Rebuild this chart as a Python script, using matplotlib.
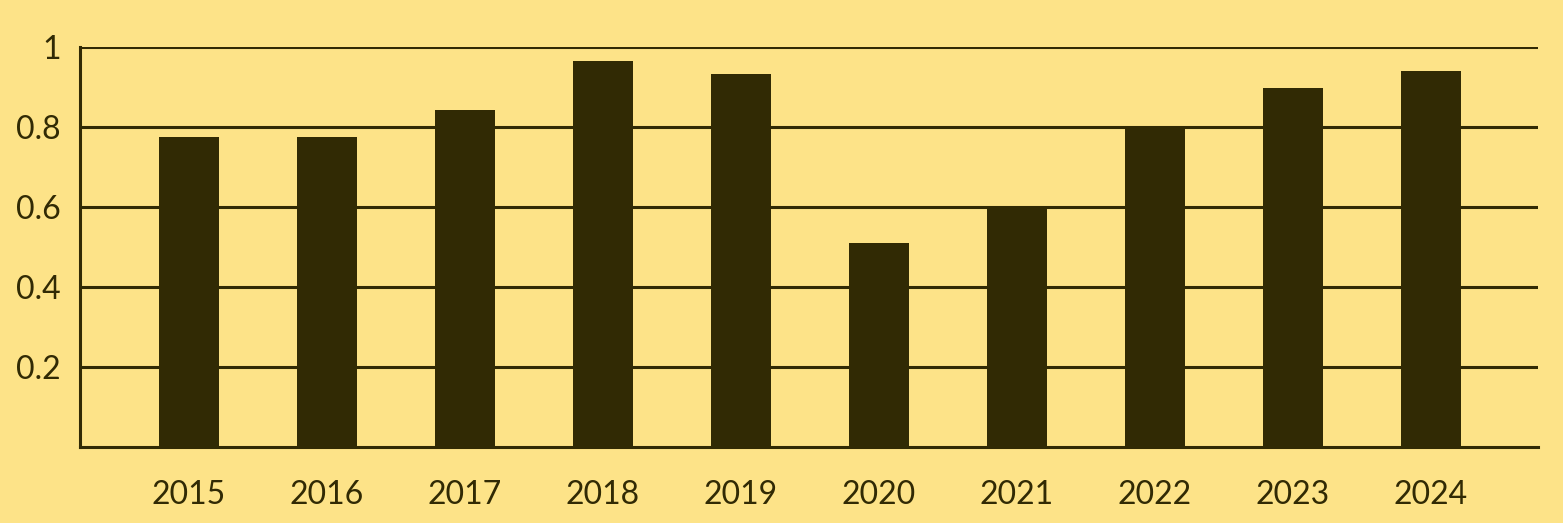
import matplotlib.pyplot as plt

# chart values
years = ['2015', '2016', '2017', '2018', '2019', '2020', '2021', '2022', '2023', '2024']
values = [0.775, 0.775, 0.842, 0.965, 0.932, 0.51, 0.60, 0.802, 0.898, 0.94]
y_ticks = [0.2, 0.4, 0.6, 0.8, 1.0]
y_labels = ['0.2', '0.4', '0.6', '0.8', '1']

bg = '#FDE388'
dark = '#312A04'

plt.rcParams['font.family'] = ['Lato', 'DejaVu Sans']

fig = plt.figure(figsize=(15.63, 5.23), dpi=100, facecolor=bg)
ax = fig.add_axes([0.0512, 0.1453, 0.9328, 0.7647], facecolor=bg)

x = range(len(years))
ax.bar(x, values, width=0.435, color=dark, zorder=3)

ax.set_xlim(-0.79, 9.775)
ax.set_ylim(0, 1)
ax.set_xticks(list(x))
ax.set_xticklabels(years)
ax.set_yticks(y_ticks)
ax.set_yticklabels(y_labels)

ax.grid(axis='y', color=dark, linewidth=2.2, zorder=1)
ax.set_axisbelow(True)
ax.grid(axis='x', visible=False)

for s in ['top', 'right']:
    ax.spines[s].set_visible(False)
for s in ['left', 'bottom']:
    ax.spines[s].set_color(dark)
    ax.spines[s].set_linewidth(2.2)
    ax.spines[s].set_zorder(4)

ax.tick_params(axis='x', length=0, pad=24, labelsize=23, labelcolor=dark)
ax.tick_params(axis='y', length=0, pad=14, labelsize=23, labelcolor=dark)

fig.savefig('out.png', dpi=100, facecolor=bg)
